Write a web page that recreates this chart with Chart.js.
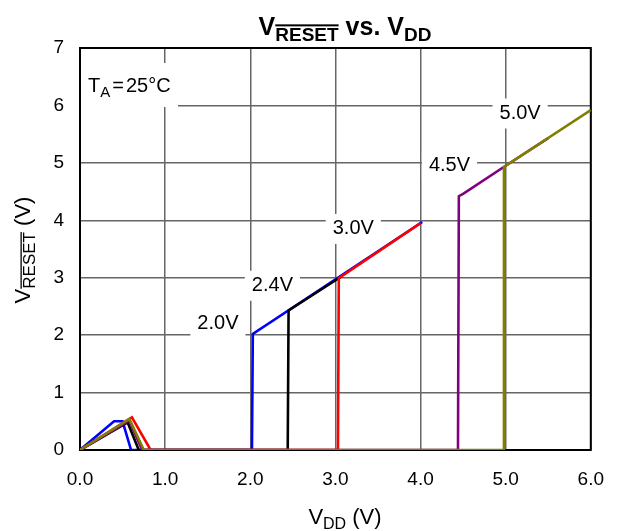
<!DOCTYPE html>
<html>
<head>
<meta charset="utf-8">
<script src="https://cdn.jsdelivr.net/npm/chart.js@4/dist/chart.umd.min.js"></script>
<style>
  body { margin: 0; background: #fff; }
  canvas { display: block; }
</style>
</head>
<body>
<canvas id="chart" width="622" height="531"></canvas>
<script>
// series: VDD (x) and VRESET (y), one pair per threshold version
const blueVdd    = [0, 0.40, 0.50, 0.60, 2.02, 2.03, 4.02];
const blueReset  = [0, 0.50, 0.50, 0, 0, 2.02, 3.97];
const blackVdd   = [0, 0.56, 0.69, 2.44, 2.45, 3.08];
const blackReset = [0, 0.48, 0, 0, 2.43, 3.03];
const redVdd     = [0, 0.61, 0.83, 3.03, 3.04, 4.00];
const redReset   = [0, 0.57, 0, 0, 2.99, 3.95];
const purpleVdd   = [0, 0.58, 0.73, 4.44, 4.45, 4.50, 5.00, 5.50];
const purpleReset = [0, 0.51, 0, 0, 4.42, 4.46, 4.95, 5.43];
const oliveVdd   = [0, 0.58, 0.75, 4.97, 4.98, 6.00];
const oliveReset = [0, 0.54, 0, 0, 4.93, 5.92];

const xTicks = [0, 1, 2, 3, 4, 5, 6];
const yTicks = [0, 1, 2, 3, 4, 5, 6, 7];

// curve labels: text and where they sit (in axis units)
const labelText = ["2.0V", "2.4V", "3.0V", "4.5V", "5.0V"];
const labelVdd  = [1.62, 2.26, 3.21, 4.34, 5.17];
const labelVres = [2.20, 2.86, 3.85, 4.95, 5.86];

const FONT = "'Liberation Sans', Arial, Helvetica, sans-serif";

function pts(xs, ys) {
  return xs.map((x, i) => ({ x: x, y: ys[i] }));
}

function line(data, color) {
  return {
    data: data,
    borderColor: color,
    borderWidth: 2.6,
    pointRadius: 0,
    showLine: true,
    fill: false,
    tension: 0
  };
}

// draws a run of text parts: {t, size, bold, sub, over}
function drawParts(ctx, parts, x, y, align) {
  let total = 0;
  parts.forEach(p => {
    ctx.font = (p.bold ? "bold " : "") + p.size + "px " + FONT;
    p.w = ctx.measureText(p.t).width;
    total += p.w + (p.gap || 0);
  });
  let cx = align === "center" ? x - total / 2 : x;
  ctx.textBaseline = "alphabetic";
  ctx.textAlign = "left";
  parts.forEach(p => {
    ctx.font = (p.bold ? "bold " : "") + p.size + "px " + FONT;
    const dy = p.sub ? p.size * 0.3 : 0;
    ctx.fillText(p.t, cx, y + dy);
    if (p.over) {
      const oy = y + dy - p.size * 0.86;
      ctx.fillRect(cx, oy, p.w, p.bold ? 2 : 1.3);
    }
    cx += p.w + (p.gap || 0);
  });
}

const decor = {
  id: "decor",
  beforeDatasetsDraw(chart) {
    const ctx = chart.ctx;
    const a = chart.chartArea;
    const xs = chart.scales.x, ys = chart.scales.y;
    ctx.save();
    // plot frame
    ctx.strokeStyle = "#000";
    ctx.lineWidth = 2;
    ctx.strokeRect(a.left, a.top, a.right - a.left, a.bottom - a.top);

    // temperature note
    ctx.fillStyle = "#fff";
    ctx.fillRect(a.left + 1, 63, 97, 44);
    ctx.fillStyle = "#000";
    drawParts(ctx, [
      { t: "T", size: 20 },
      { t: "A", size: 15, sub: true, gap: 2 },
      { t: "=", size: 20, gap: 2 },
      { t: "25°C", size: 20 }
    ], 88, 92, "left");

    // curve labels with white boxes over the grid
    ctx.font = "20px " + FONT;
    labelText.forEach((t, i) => {
      const px = xs.getPixelForValue(labelVdd[i]);
      const py = ys.getPixelForValue(labelVres[i]);
      const w = ctx.measureText(t).width + 14;
      ctx.fillStyle = "#fff";
      ctx.fillRect(px - w / 2, py - 15, w, 30);
      ctx.fillStyle = "#000";
      ctx.textAlign = "center";
      ctx.textBaseline = "middle";
      ctx.fillText(t, px, py);
    });
    ctx.restore();
  },
  afterDraw(chart) {
    const ctx = chart.ctx;
    ctx.save();
    ctx.fillStyle = "#000";
    // title
    drawParts(ctx, [
      { t: "V", size: 25, bold: true },
      { t: "RESET", size: 19, bold: true, sub: true, over: true },
      { t: " vs. V", size: 25, bold: true },
      { t: "DD", size: 19, bold: true, sub: true }
    ], 345, 35, "center");
    // x axis title
    drawParts(ctx, [
      { t: "V", size: 22 },
      { t: "DD", size: 16, sub: true },
      { t: " (V)", size: 22 }
    ], 345, 524, "center");
    // y axis title
    ctx.translate(30, 250);
    ctx.rotate(-Math.PI / 2);
    drawParts(ctx, [
      { t: "V", size: 22 },
      { t: "RESET", size: 17, sub: true, over: true },
      { t: " (V)", size: 22 }
    ], 0, 0, "center");
    ctx.restore();
  }
};

new Chart(document.getElementById("chart"), {
  type: "scatter",
  data: {
    datasets: [
      line(pts(oliveVdd, oliveReset), "#808000"),
      line(pts(purpleVdd, purpleReset), "#800080"),
      line(pts(redVdd, redReset), "#ff0000"),
      line(pts(blackVdd, blackReset), "#000000"),
      line(pts(blueVdd, blueReset), "#0000ff")
    ]
  },
  options: {
    responsive: false,
    animation: false,
    layout: { padding: { top: 48, right: 28, left: 0, bottom: 0 } },
    plugins: { legend: { display: false }, tooltip: { enabled: false } },
    scales: {
      x: {
        type: "linear",
        min: 0, max: 6,
        afterBuildTicks: s => { s.ticks = xTicks.map(v => ({ value: v })); },
        afterFit: s => { s.height = 81; },
        ticks: {
          callback: v => v.toFixed(1),
          color: "#000",
          font: { family: FONT, size: 19 },
          padding: 18,
          maxRotation: 0
        },
        grid: { color: "#666", lineWidth: 1.5, drawTicks: false },
        border: { display: false }
      },
      y: {
        min: 0, max: 7,
        afterBuildTicks: s => { s.ticks = yTicks.map(v => ({ value: v })); },
        afterFit: s => { s.width = 80; },
        ticks: {
          callback: v => String(v),
          color: "#000",
          font: { family: FONT, size: 19 },
          padding: 16
        },
        grid: { color: "#666", lineWidth: 1.5, drawTicks: false },
        border: { display: false }
      }
    }
  },
  plugins: [decor]
});
</script>
</body>
</html>
